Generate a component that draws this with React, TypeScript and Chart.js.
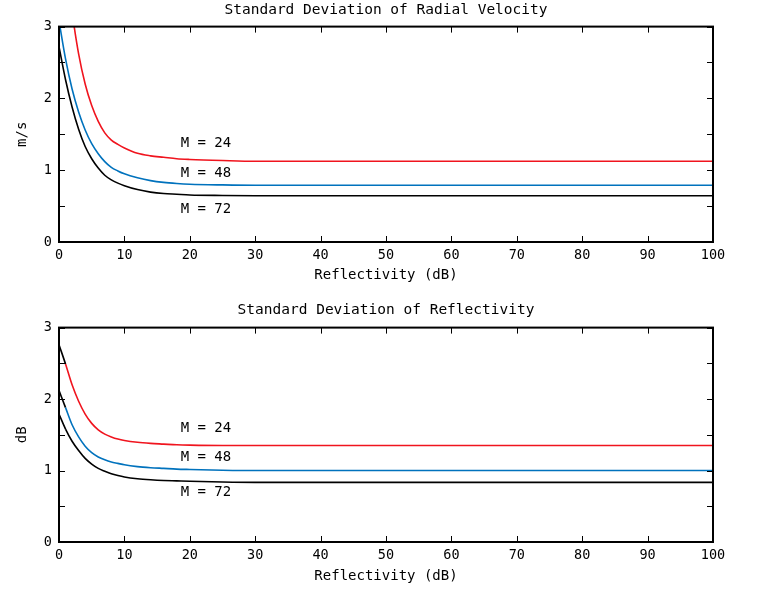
import React, { useEffect, useRef } from 'react';
import { Chart, registerables } from 'chart.js';

Chart.register(...registerables);

// ---- data ----
const reflectivity = [0, 1, 2, 3, 4, 5, 6, 7, 8, 9, 10, 12, 14, 16, 18, 20, 25, 30, 40, 50, 60, 70, 80, 90, 100];

const velM24 = [4.6, 3.9, 3.2, 2.62, 2.2, 1.9, 1.68, 1.52, 1.42, 1.36, 1.31, 1.235, 1.2, 1.18, 1.16, 1.15, 1.135, 1.125, 1.125, 1.125, 1.125, 1.125, 1.125, 1.125, 1.125];
const velM48 = [3.08, 2.55, 2.13, 1.81, 1.56, 1.37, 1.23, 1.12, 1.04, 0.99, 0.95, 0.895, 0.855, 0.83, 0.815, 0.805, 0.795, 0.79, 0.79, 0.79, 0.79, 0.79, 0.79, 0.79, 0.79];
const velM72 = [2.72, 2.26, 1.88, 1.57, 1.33, 1.16, 1.03, 0.93, 0.865, 0.82, 0.785, 0.73, 0.695, 0.675, 0.665, 0.655, 0.648, 0.645, 0.645, 0.645, 0.645, 0.645, 0.645, 0.645, 0.645];

const refM24 = [2.76, 2.49, 2.2, 1.97, 1.79, 1.66, 1.57, 1.51, 1.47, 1.44, 1.42, 1.395, 1.38, 1.37, 1.36, 1.355, 1.35, 1.35, 1.35, 1.35, 1.35, 1.35, 1.35, 1.35, 1.35];
const refM48 = [2.12, 1.88, 1.64, 1.47, 1.34, 1.25, 1.19, 1.15, 1.12, 1.1, 1.08, 1.055, 1.04, 1.03, 1.02, 1.015, 1.005, 1.0, 1.0, 1.0, 1.0, 1.0, 1.0, 1.0, 1.0];
const refM72 = [1.79, 1.58, 1.41, 1.28, 1.17, 1.09, 1.03, 0.99, 0.955, 0.93, 0.91, 0.885, 0.87, 0.86, 0.855, 0.85, 0.84, 0.835, 0.835, 0.835, 0.835, 0.835, 0.835, 0.835, 0.835];

const seriesLabels = ['M = 24', 'M = 48', 'M = 72'];
const xTickMarks = [0, 10, 20, 30, 40, 50, 60, 70, 80, 90, 100];
const yTickMarks = [0, 0.5, 1, 1.5, 2, 2.5, 3];

const FONT = "'DejaVu Sans Mono', monospace";
const COLORS = ['#f0141e', '#0072bd', '#000000'];

const framePlugin = {
  id: 'frame',
  afterDatasetsDraw(chart: any, _args: any, opts: any) {
    const { ctx, chartArea, scales } = chart;
    const { left, right, top, bottom } = chartArea;
    const x = scales.x;
    const y = scales.y;
    ctx.save();
    ctx.strokeStyle = '#000';
    ctx.lineWidth = 1;
    const tl = 6;
    ctx.beginPath();
    xTickMarks.forEach((v) => {
      const px = Math.round(x.getPixelForValue(v)) + 0.5;
      ctx.moveTo(px, bottom);
      ctx.lineTo(px, bottom - tl);
      ctx.moveTo(px, top);
      ctx.lineTo(px, top + tl);
    });
    yTickMarks.forEach((v) => {
      const py = Math.round(y.getPixelForValue(v)) + 0.5;
      ctx.moveTo(left, py);
      ctx.lineTo(left + tl, py);
      ctx.moveTo(right, py);
      ctx.lineTo(right - tl, py);
    });
    ctx.stroke();
    ctx.lineWidth = 2;
    ctx.strokeRect(left, top, right - left, bottom - top);
    ctx.fillStyle = '#000';
    ctx.font = `14px ${FONT}`;
    ctx.textBaseline = 'middle';
    ctx.textAlign = 'left';
    (opts.notes || []).forEach((n: any) => {
      ctx.fillText(n.text, x.getPixelForValue(n.x), y.getPixelForValue(n.y));
    });
    ctx.restore();
  },
};

function buildConfig(p: {
  title: string;
  yTitle: string;
  values: number[][];
  titlePad: { top: number; bottom: number };
  xTitleBottom: number;
  xHeight: number;
  notes: { text: string; x: number; y: number }[];
  firstSegmentBlack: boolean;
}) {
  return {
    type: 'line' as const,
    data: {
      datasets: p.values.map((vals, i) => ({
        label: seriesLabels[i],
        data: reflectivity.map((r, k) => ({ x: r, y: vals[k] })),
        borderColor: COLORS[i],
        borderWidth: 1.6,
        pointRadius: 0,
        fill: false,
        cubicInterpolationMode: 'monotone' as const,
        segment: p.firstSegmentBlack
          ? { borderColor: (c: any) => (c.p0DataIndex === 0 ? '#000' : undefined) }
          : undefined,
      })),
    },
    options: {
      animation: false as const,
      responsive: false,
      layout: { padding: { left: 14, right: 0, top: 0, bottom: 0 } },
      plugins: {
        legend: { display: false },
        tooltip: { enabled: false },
        title: {
          display: true,
          text: p.title,
          color: '#000',
          font: { family: FONT, size: 14.5, weight: 'normal' as const },
          padding: p.titlePad,
        },
        frame: { notes: p.notes },
      },
      scales: {
        x: {
          type: 'linear' as const,
          min: 0,
          max: 100,
          grid: { display: false, drawTicks: false },
          border: { display: false },
          ticks: {
            stepSize: 10,
            color: '#000',
            font: { family: FONT, size: 13.5 },
            padding: 5,
            maxRotation: 0,
            autoSkip: false,
          },
          title: {
            display: true,
            text: 'Reflectivity (dB)',
            color: '#000',
            font: { family: FONT, size: 14 },
            padding: { top: 0, bottom: p.xTitleBottom },
          },
          afterFit: (s: any) => {
            s.height = p.xHeight;
          },
        },
        y: {
          min: 0,
          max: 3,
          grid: { display: false, drawTicks: false },
          border: { display: false },
          ticks: {
            stepSize: 1,
            color: '#000',
            font: { family: FONT, size: 13.5 },
            padding: 7,
          },
          title: {
            display: true,
            text: p.yTitle,
            color: '#000',
            font: { family: FONT, size: 14 },
            padding: { top: 0, bottom: 0 },
          },
          afterFit: (s: any) => {
            s.width = 45;
          },
        },
        y2: {
          position: 'right' as const,
          min: 0,
          max: 3,
          grid: { display: false, drawTicks: false },
          border: { display: false },
          ticks: { display: false },
          afterFit: (s: any) => {
            s.width = 45;
          },
        },
      },
    },
    plugins: [framePlugin],
  };
}

function ChartCanvas(props: { top: number; height: number; config: any }) {
  const ref = useRef<HTMLCanvasElement | null>(null);
  useEffect(() => {
    if (!ref.current) return;
    const chart = new Chart(ref.current, props.config);
    return () => chart.destroy();
  }, []);
  return (
    <canvas
      ref={ref}
      width={758}
      height={props.height}
      style={{ position: 'absolute', left: 0, top: props.top, width: 758, height: props.height, display: 'block' }}
    />
  );
}

export default function App() {
  const upper = buildConfig({
    title: 'Standard Deviation of Radial Velocity',
    yTitle: 'm/s',
    values: [velM24, velM48, velM72],
    titlePad: { top: 2, bottom: 7.2 },
    xTitleBottom: 6.6,
    xHeight: 48,
    notes: [
      { text: seriesLabels[0], x: 18.6, y: 1.375 },
      { text: seriesLabels[1], x: 18.6, y: 0.96 },
      { text: seriesLabels[2], x: 18.6, y: 0.46 },
    ],
    firstSegmentBlack: false,
  });
  const lower = buildConfig({
    title: 'Standard Deviation of Reflectivity',
    yTitle: 'dB',
    values: [refM24, refM48, refM72],
    titlePad: { top: 11.6, bottom: 8.6 },
    xTitleBottom: 5.6,
    xHeight: 48,
    notes: [
      { text: seriesLabels[0], x: 18.6, y: 1.59 },
      { text: seriesLabels[1], x: 18.6, y: 1.19 },
      { text: seriesLabels[2], x: 18.6, y: 0.69 },
    ],
    firstSegmentBlack: true,
  });
  return (
    <div style={{ position: 'absolute', left: 0, top: 0, width: 758, height: 590, background: '#fff' }}>
      <ChartCanvas top={0} height={290} config={upper} />
      <ChartCanvas top={290} height={300} config={lower} />
    </div>
  );
}
